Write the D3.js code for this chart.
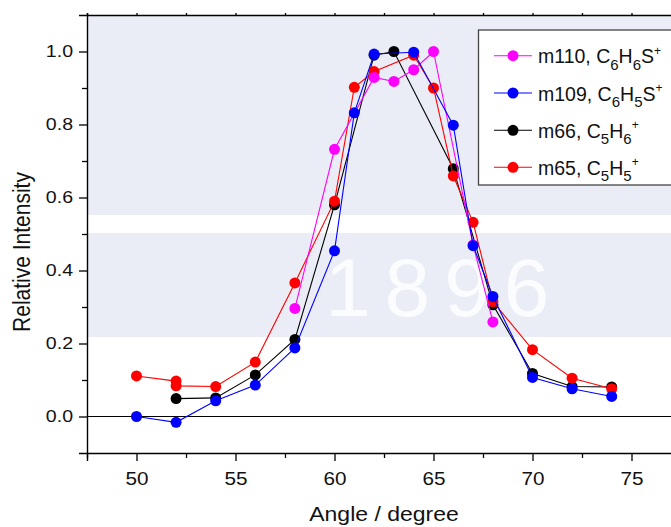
<!DOCTYPE html>
<html>
<head>
<meta charset="utf-8">
<script src="https://cdn.jsdelivr.net/npm/d3@7/dist/d3.min.js"></script>
<style>
  html, body { margin: 0; padding: 0; background: #ffffff; }
  svg { display: block; font-family: "Liberation Sans", Arial, sans-serif; }
</style>
</head>
<body>
<svg id="chart" width="671" height="527"></svg>
<script>
// ---- data ----
const xMajorTicks = [50, 55, 60, 65, 70, 75];
const xMinorTicks = [47.5, 52.5, 57.5, 62.5, 67.5, 72.5, 77.5];
const yMajorTicks = [0.0, 0.2, 0.4, 0.6, 0.8, 1.0];
const yMinorTicks = [0.1, 0.3, 0.5, 0.7, 0.9];

const angles110 = [58, 60, 62, 63, 64, 65, 67, 68];
const m110      = [0.296, 0.732, 0.929, 0.918, 0.950, 1.000, 0.470, 0.259];

const angles109 = [50, 52, 54, 56, 58, 60, 61, 62, 64, 66, 67, 68, 70, 72, 74];
const m109      = [0.000, -0.016, 0.043, 0.086, 0.188, 0.454, 0.832, 0.993, 0.998, 0.798, 0.468, 0.329, 0.107, 0.076, 0.055];

const angles66  = [52, 54, 56, 58, 60, 62, 63, 66, 68, 70, 72, 74];
const m66       = [0.049, 0.051, 0.114, 0.211, 0.580, 0.990, 1.000, 0.679, 0.306, 0.118, 0.082, 0.081];

const angles65  = [50, 52, 52, 54, 56, 58, 60, 61, 62, 64, 65, 66, 67, 68, 70, 72, 74];
const m65       = [0.111, 0.097, 0.084, 0.082, 0.149, 0.366, 0.590, 0.902, 0.945, 0.990, 0.900, 0.659, 0.532, 0.315, 0.183, 0.105, 0.076];

const seriesNames = ["m110", "m109", "m66", "m65"];
const seriesColors = ["#ff00ff", "#0000ff", "#000000", "#ff0000"];

// legend label pieces: [text, kind]  kind: n=normal, sub, sup
const legendLabels = [
  [["m110, C","n"],["6","sub"],["H","n"],["6","sub"],["S","n"],["+","sup"]],
  [["m109, C","n"],["6","sub"],["H","n"],["5","sub"],["S","n"],["+","sup"]],
  [["m66, C","n"],["5","sub"],["H","n"],["6","sub"],["+","sup"]],
  [["m65, C","n"],["5","sub"],["H","n"],["5","sub"],["+","sup"]]
];

const series = seriesNames.map((n, i) => ({
  name: n,
  x: [angles110, angles109, angles66, angles65][i],
  y: [m110, m109, m66, m65][i],
  color: seriesColors[i]
}));
// drawing order (bottom to top)
const drawOrder = ["m66", "m65", "m110", "m109"];

// ---- layout ----
const SX = 1.15; // horizontal stretch of the original figure's text
const svg = d3.select("#chart");
const x = d3.scaleLinear().domain([47.5, 77.5]).range([87, 681]);
const y = d3.scaleLinear().domain([-0.1, 1.1]).range([453, 15]);

// faint watermark-like background
const bg = svg.append("g");
bg.append("rect").attr("x", 87).attr("y", 15).attr("width", 584).attr("height", 200).attr("fill", "#eaedf5");
bg.append("rect").attr("x", 87).attr("y", 233).attr("width", 584).attr("height", 104).attr("fill", "#eaedf5");
bg.append("text").attr("x", 325).attr("y", 316).attr("font-size", 82)
  .attr("fill", "#fbfcfe").attr("letter-spacing", 14).text("1896");

// axes
const axisG = svg.append("g");
const bottomMajor = d3.axisBottom(x).tickValues(xMajorTicks).tickSize(8).tickPadding(11).tickFormat(d3.format("d"));
const bottomMinor = d3.axisBottom(x).tickValues(xMinorTicks).tickSize(5).tickFormat("");
const leftMajor = d3.axisLeft(y).tickValues(yMajorTicks).tickSize(8).tickPadding(6).tickFormat(d3.format(".1f"));
const leftMinor = d3.axisLeft(y).tickValues(yMinorTicks).tickSize(5).tickFormat("");
const topMinor = d3.axisTop(x).tickValues(xMajorTicks.concat(xMinorTicks)).tickSize(2).tickFormat("");

function styleAxis(g, fs) {
  g.select(".domain").attr("stroke", "#000").attr("stroke-width", 1.4);
  g.selectAll(".tick line").attr("stroke", "#000").attr("stroke-width", 1.3);
  g.selectAll("text").attr("font-size", fs).attr("fill", "#111").attr("font-family", "Liberation Sans, Arial, sans-serif");
}

const gb = axisG.append("g").attr("transform", `translate(0,${y(-0.1)})`).call(bottomMajor);
styleAxis(gb, 18);
gb.selectAll("text").attr("transform", `scale(${SX},1)`);
const gbm = axisG.append("g").attr("transform", `translate(0,${y(-0.1)})`).call(bottomMinor);
styleAxis(gbm, 18); gbm.select(".domain").remove();

const gl = axisG.append("g").attr("transform", `translate(${x(47.5)},0)`).call(leftMajor);
styleAxis(gl, 17);
gl.selectAll("text").attr("x", -14 / SX).attr("transform", `scale(${SX},1)`);
const glm = axisG.append("g").attr("transform", `translate(${x(47.5)},0)`).call(leftMinor);
styleAxis(glm, 17); glm.select(".domain").remove();

const gt = axisG.append("g").attr("transform", `translate(0,${y(1.1)})`).call(topMinor);
styleAxis(gt, 12);

// zero line
svg.append("line").attr("x1", x(47.5)).attr("x2", x(77.5)).attr("y1", y(0)).attr("y2", y(0))
  .attr("stroke", "#000").attr("stroke-width", 1.1);

// axis titles
svg.append("text").attr("transform", `translate(${x(62.5)},521) scale(${SX},1)`)
  .attr("text-anchor", "middle").attr("font-size", 20).attr("fill", "#111").text("Angle / degree");
svg.append("text").attr("transform", `translate(30,252) scale(${SX},1) rotate(-90)`)
  .attr("text-anchor", "middle").attr("font-size", 21).attr("fill", "#111").text("Relative Intensity");

// data
const line = d3.line().x(d => x(d[0])).y(d => y(d[1]));
const plotG = svg.append("g");
drawOrder.forEach(name => {
  const s = series.find(t => t.name === name);
  const pts = s.x.map((v, i) => [v, s.y[i]]);
  const g = plotG.append("g");
  g.append("path").datum(pts).attr("d", line).attr("fill", "none").attr("stroke", s.color).attr("stroke-width", 1.1);
  g.selectAll("circle").data(pts).join("circle")
    .attr("cx", d => x(d[0])).attr("cy", d => y(d[1])).attr("r", 5.5).attr("fill", s.color);
});

// legend
const lg = svg.append("g");
lg.append("rect").attr("x", 478.5).attr("y", 30).attr("width", 200).attr("height", 155)
  .attr("fill", "#ffffff").attr("stroke", "#444").attr("stroke-width", 1.3);
const rowY = [55.7, 93, 130.3, 167.3];
series.forEach((s, i) => {
  const cy = rowY[i];
  lg.append("line").attr("x1", 494).attr("x2", 532).attr("y1", cy).attr("y2", cy).attr("stroke", s.color).attr("stroke-width", 1.1);
  lg.append("circle").attr("cx", 513).attr("cy", cy).attr("r", 5.5).attr("fill", s.color);
  const t = lg.append("text").attr("x", 538).attr("y", cy + 7.5).attr("font-size", 19.5).attr("fill", "#111");
  let shift = 0;
  legendLabels[i].forEach(([txt, kind]) => {
    const ts = t.append("tspan").text(txt);
    let target = 0, fs = 19.5;
    if (kind === "sub") { target = 6.5; fs = 15; }
    else if (kind === "sup") { target = -8.5; fs = 12; }
    ts.attr("font-size", fs).attr("dy", target - shift);
    shift = target;
  });
});
</script>
</body>
</html>
